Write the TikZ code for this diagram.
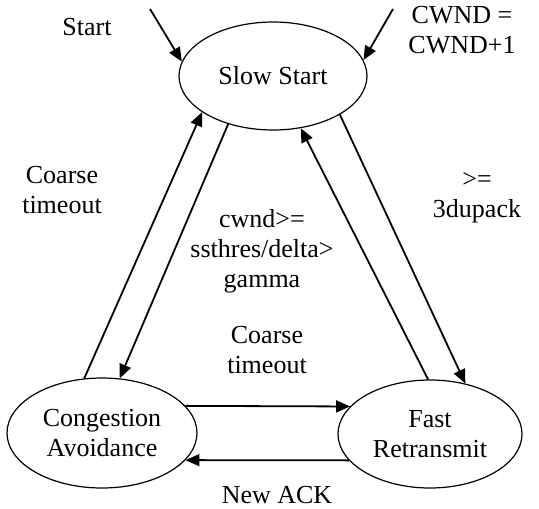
\documentclass[tikz,border=0pt]{standalone}
\usepackage{fontspec}
\setmainfont{Liberation Serif}
\usetikzlibrary{shapes.geometric,arrows.meta}

\begin{document}
\begin{tikzpicture}[x=1pt,y=-1pt,
  every node/.style = {align=center, font=\fontsize{26}{30}\selectfont},
  state/.style = {shape=ellipse, draw, line width=1.2pt, inner sep=0pt,
    minimum width=188pt, minimum height=108pt},
  arr/.style = {line width=1.8pt, -{Triangle[length=14pt,width=12pt]}}]
  \useasboundingbox (0,0) rectangle (539,509);

  \node[state] (SS) at (273,76) {Slow Start};
  \node[state, minimum width=190pt, minimum height=110pt] (CA) at (102,433) {Congestion\\ Avoidance};
  \node[state, minimum width=184pt] (FR) at (430,434) {Fast\\ Retransmit};

  \coordinate (start) at (150,9);
  \coordinate (cwnd) at (393,9);

  \node (lstart) at (87,27) {Start};
  \node (lcwnd) at (462,30) {CWND =\\ CWND+1};
  \node (lcoarse) at (62,190) {Coarse\\ timeout};
  \node (ldup) at (477,198) {>=\\ 3dupack};
  \node (lcwndge) at (262,251) {cwnd>=\\ ssthres/delta>\\ gamma};
  \node (lcoarse2) at (267,350) {Coarse\\ timeout};
  \node (lnewack) at (277,495) {New ACK};

  \draw[arr] (start) -- (SS.171);
  \draw[arr] (cwnd) -- (SS.10);
  \draw[arr] (CA.108) -- (SS.207);
  \draw[arr] (SS.227) -- (CA.72);
  \draw[arr] (FR.92) -- (SS.298);
  \draw[arr] (SS.330) -- (FR.55);
  \draw[arr] (CA.18) -- (FR.161.4);
  \draw[arr] (FR.198.7) -- (CA.-18);

\end{tikzpicture}
\end{document}
